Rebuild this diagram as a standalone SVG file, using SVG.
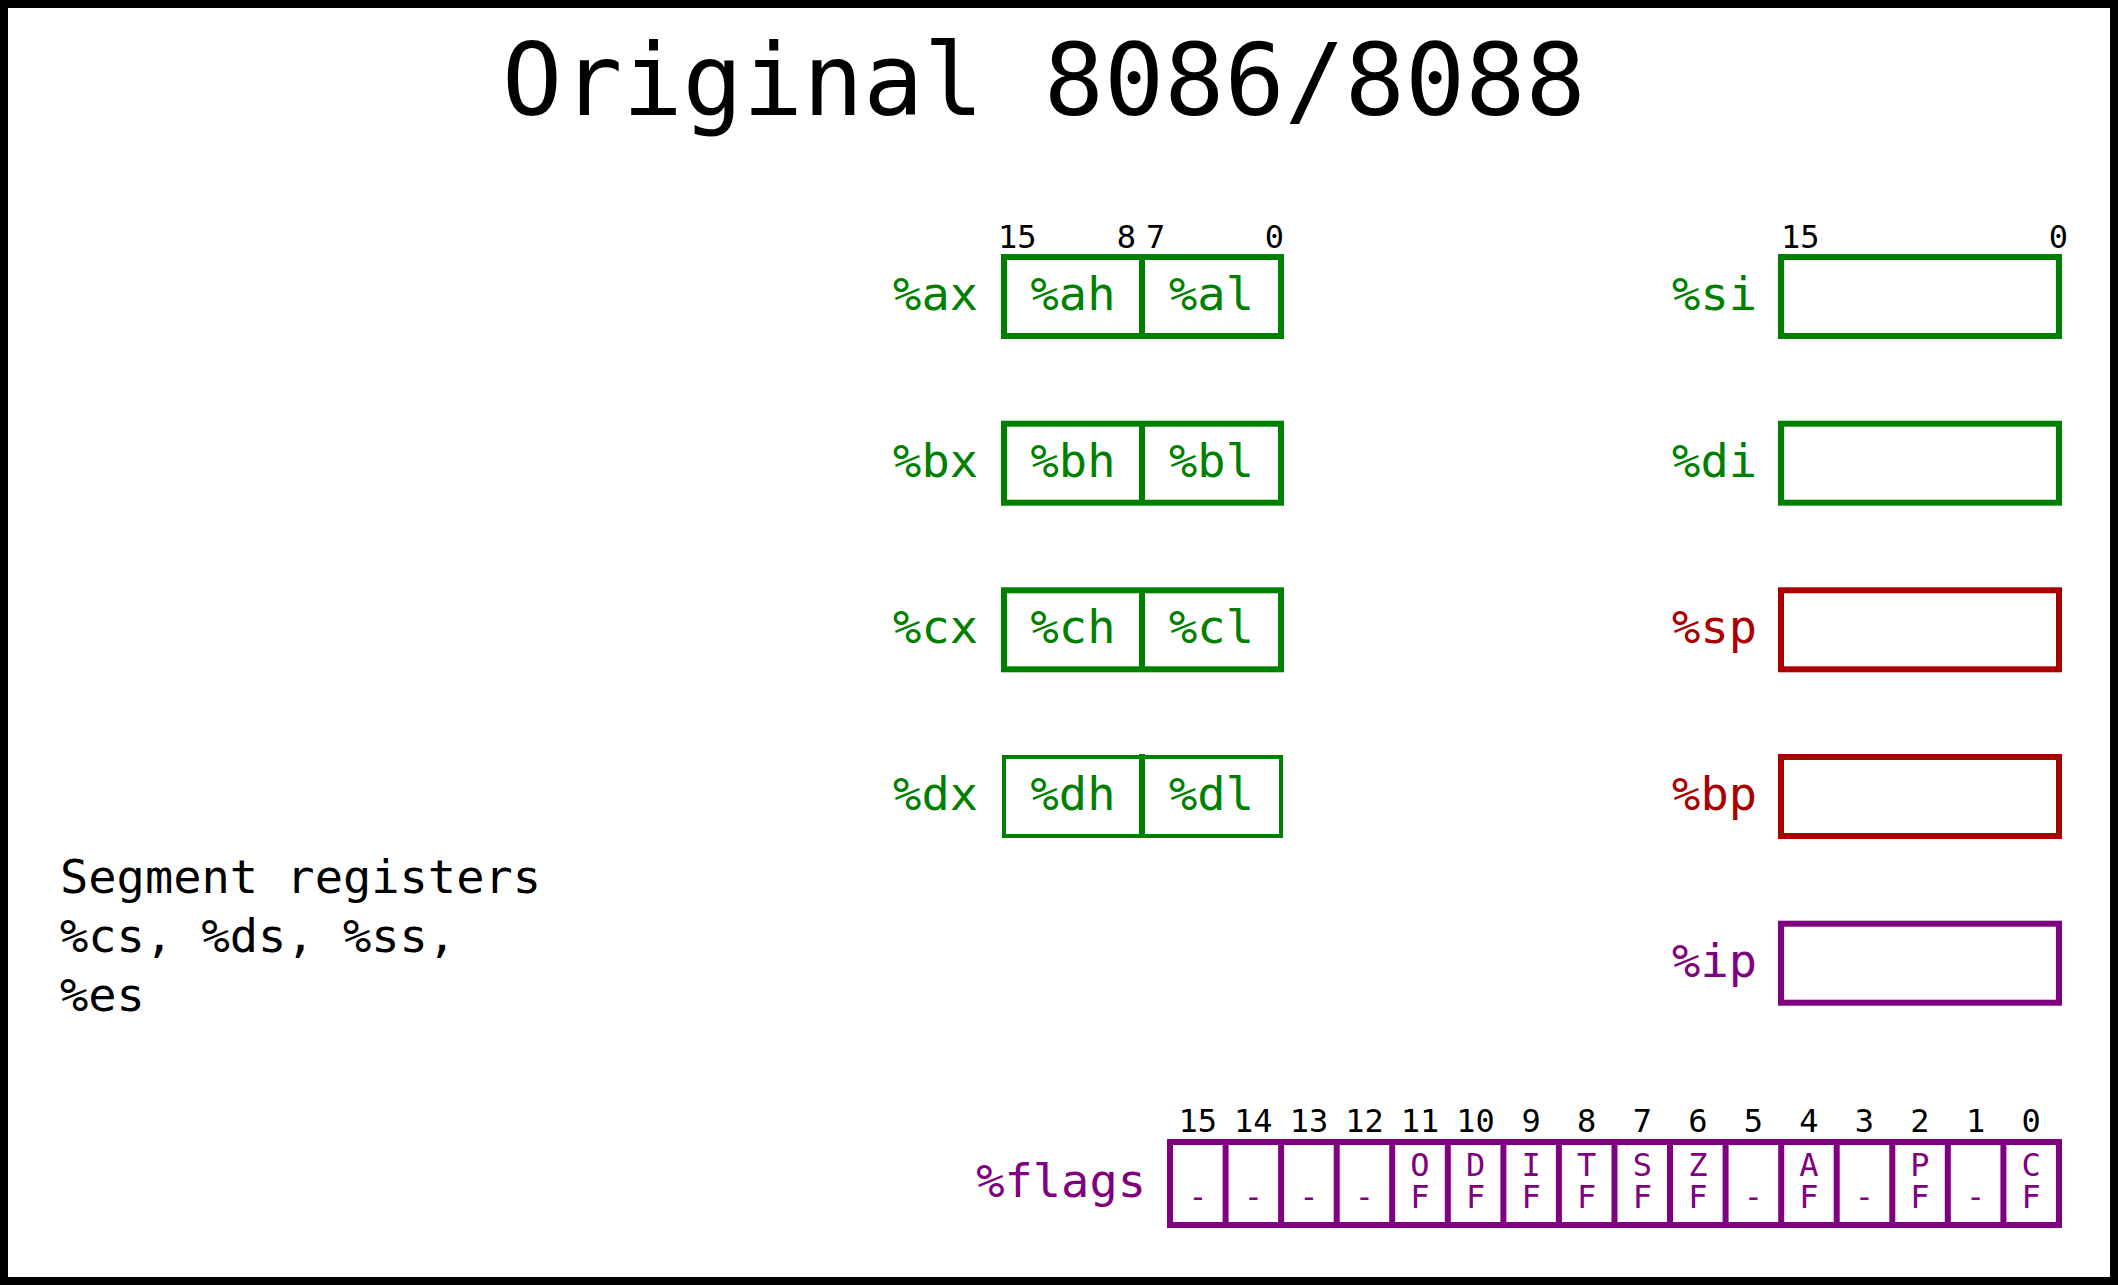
<svg xmlns="http://www.w3.org/2000/svg" width="2118" height="1285" viewBox="0 0 2118 1285">
<style>
text{font-family:"DejaVu Sans Mono","Liberation Mono",monospace}
.title{font-size:100px;fill:#000}
.lbl{font-size:47px}
.bit{font-size:32px;fill:#000}
.g{fill:#008000}
.r{fill:#aa0000}
.p{fill:#800080}
.bg{fill:none;stroke:#008000;stroke-width:6}
.br{fill:none;stroke:#aa0000;stroke-width:6}
.bp{fill:none;stroke:#800080;stroke-width:6}
.fl{font-size:32px;fill:#800080;text-anchor:middle}
.seg{font-size:47px;fill:#000}
</style>
<rect x="4" y="4" width="2110" height="1277" fill="#fff" stroke="#000" stroke-width="8"/>
<text class="title" x="502" y="115">Original 8086/8088</text>

<g id="ax">
<text class="bit" x="998" y="248">15</text>
<text class="bit" x="1136" y="248" text-anchor="end">8</text>
<text class="bit" x="1146" y="248">7</text>
<text class="bit" x="1284" y="248" text-anchor="end">0</text>
<text class="lbl g" x="978" y="310" text-anchor="end">%ax</text>
<rect class="bg" x="1004" y="257" width="277" height="79"/>
<line class="bg" x1="1142" y1="257" x2="1142" y2="336"/>
<text class="lbl g" x="1073" y="310" text-anchor="middle">%ah</text>
<text class="lbl g" x="1211.5" y="310" text-anchor="middle">%al</text>
</g>
<g id="bx">
<text class="lbl g" x="978" y="476.7" text-anchor="end">%bx</text>
<rect class="bg" x="1004" y="423.7" width="277" height="79"/>
<line class="bg" x1="1142" y1="423.7" x2="1142" y2="502.7"/>
<text class="lbl g" x="1073" y="476.7" text-anchor="middle">%bh</text>
<text class="lbl g" x="1211.5" y="476.7" text-anchor="middle">%bl</text>
</g>
<g id="cx">
<text class="lbl g" x="978" y="643.3" text-anchor="end">%cx</text>
<rect class="bg" x="1004" y="590.3" width="277" height="79"/>
<line class="bg" x1="1142" y1="590.3" x2="1142" y2="669.3"/>
<text class="lbl g" x="1073" y="643.3" text-anchor="middle">%ch</text>
<text class="lbl g" x="1211.5" y="643.3" text-anchor="middle">%cl</text>
</g>
<g id="dx">
<text class="lbl g" x="978" y="810" text-anchor="end">%dx</text>
<rect class="bg" x="1004" y="757" width="277" height="79" style="stroke-width:4"/>
<line class="bg" x1="1142" y1="754" x2="1142" y2="838"/>
<text class="lbl g" x="1073" y="810" text-anchor="middle">%dh</text>
<text class="lbl g" x="1211.5" y="810" text-anchor="middle">%dl</text>
</g>

<g id="si">
<text class="bit" x="1781" y="248">15</text>
<text class="bit" x="2068" y="248" text-anchor="end">0</text>
<text class="lbl g" x="1757" y="310" text-anchor="end">%si</text>
<rect class="bg" x="1781" y="257" width="278" height="79"/>
</g>
<g id="di">
<text class="lbl g" x="1757" y="476.7" text-anchor="end">%di</text>
<rect class="bg" x="1781" y="423.7" width="278" height="79"/>
</g>
<g id="sp">
<text class="lbl r" x="1757" y="643.3" text-anchor="end">%sp</text>
<rect class="br" x="1781" y="590.3" width="278" height="79"/>
</g>
<g id="bp">
<text class="lbl r" x="1757" y="810" text-anchor="end">%bp</text>
<rect class="br" x="1781" y="757" width="278" height="79"/>
</g>
<g id="ip">
<text class="lbl p" x="1757" y="976.7" text-anchor="end">%ip</text>
<rect class="bp" x="1781" y="923.7" width="278" height="79"/>
</g>

<g id="segment">
<text class="seg" x="60" y="893">Segment registers</text>
<text class="seg" x="60" y="952">%cs, %ds, %ss,</text>
<text class="seg" x="60" y="1011">%es</text>
</g>

<g id="flags">
<text class="lbl p" x="1146" y="1197" text-anchor="end">%flags</text>
<rect class="bp" x="1170" y="1142" width="889" height="83"/>
<g class="bp">
<line x1="1225.6" y1="1142" x2="1225.6" y2="1225"/>
<line x1="1281.1" y1="1142" x2="1281.1" y2="1225"/>
<line x1="1336.7" y1="1142" x2="1336.7" y2="1225"/>
<line x1="1392.2" y1="1142" x2="1392.2" y2="1225"/>
<line x1="1447.8" y1="1142" x2="1447.8" y2="1225"/>
<line x1="1503.4" y1="1142" x2="1503.4" y2="1225"/>
<line x1="1558.9" y1="1142" x2="1558.9" y2="1225"/>
<line x1="1614.5" y1="1142" x2="1614.5" y2="1225"/>
<line x1="1670.0" y1="1142" x2="1670.0" y2="1225"/>
<line x1="1725.6" y1="1142" x2="1725.6" y2="1225"/>
<line x1="1781.2" y1="1142" x2="1781.2" y2="1225"/>
<line x1="1836.7" y1="1142" x2="1836.7" y2="1225"/>
<line x1="1892.3" y1="1142" x2="1892.3" y2="1225"/>
<line x1="1947.8" y1="1142" x2="1947.8" y2="1225"/>
<line x1="2003.4" y1="1142" x2="2003.4" y2="1225"/>
</g>
<g class="bit" text-anchor="middle">
<text x="1197.8" y="1132">15</text>
<text x="1253.3" y="1132">14</text>
<text x="1308.9" y="1132">13</text>
<text x="1364.5" y="1132">12</text>
<text x="1420.0" y="1132">11</text>
<text x="1475.6" y="1132">10</text>
<text x="1531.1" y="1132">9</text>
<text x="1586.7" y="1132">8</text>
<text x="1642.3" y="1132">7</text>
<text x="1697.8" y="1132">6</text>
<text x="1753.4" y="1132">5</text>
<text x="1808.9" y="1132">4</text>
<text x="1864.5" y="1132">3</text>
<text x="1920.0" y="1132">2</text>
<text x="1975.6" y="1132">1</text>
<text x="2031.2" y="1132">0</text>
</g>
<text class="fl" x="1197.8" y="1208">-</text>
<text class="fl" x="1253.3" y="1208">-</text>
<text class="fl" x="1308.9" y="1208">-</text>
<text class="fl" x="1364.5" y="1208">-</text>
<text class="fl"><tspan x="1420.0" y="1176">O</tspan><tspan x="1420.0" y="1208">F</tspan></text>
<text class="fl"><tspan x="1475.6" y="1176">D</tspan><tspan x="1475.6" y="1208">F</tspan></text>
<text class="fl"><tspan x="1531.1" y="1176">I</tspan><tspan x="1531.1" y="1208">F</tspan></text>
<text class="fl"><tspan x="1586.7" y="1176">T</tspan><tspan x="1586.7" y="1208">F</tspan></text>
<text class="fl"><tspan x="1642.3" y="1176">S</tspan><tspan x="1642.3" y="1208">F</tspan></text>
<text class="fl"><tspan x="1697.8" y="1176">Z</tspan><tspan x="1697.8" y="1208">F</tspan></text>
<text class="fl" x="1753.4" y="1208">-</text>
<text class="fl"><tspan x="1808.9" y="1176">A</tspan><tspan x="1808.9" y="1208">F</tspan></text>
<text class="fl" x="1864.5" y="1208">-</text>
<text class="fl"><tspan x="1920.0" y="1176">P</tspan><tspan x="1920.0" y="1208">F</tspan></text>
<text class="fl" x="1975.6" y="1208">-</text>
<text class="fl"><tspan x="2031.2" y="1176">C</tspan><tspan x="2031.2" y="1208">F</tspan></text>
</g>
</svg>
